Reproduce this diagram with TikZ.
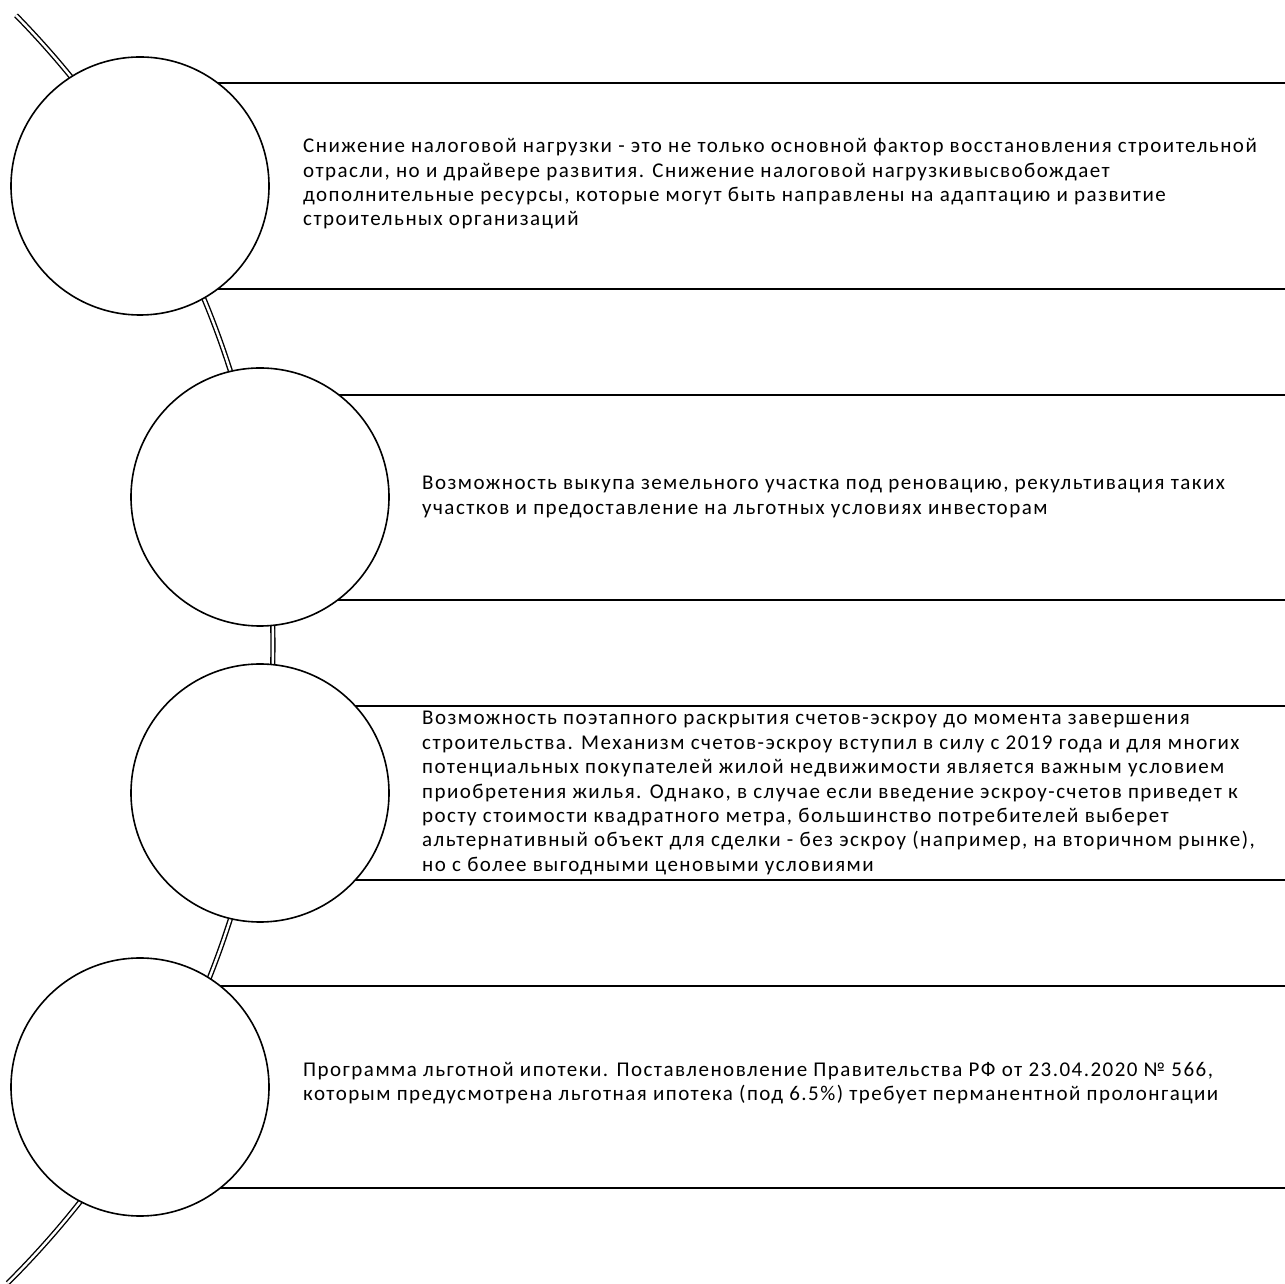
\documentclass[tikz,border=0pt]{standalone}
\usepackage{fontspec}
\setmainfont{Carlito}[LetterSpace=7]
\definecolor{ink}{RGB}{0,0,0}

\begin{document}
\begin{tikzpicture}[x=1pt,y=1pt,line cap=butt,line join=round,
  stage/.style={circle,draw=ink,fill=white,line width=1.6pt,inner sep=0pt,minimum size=258pt},
  note/.style={anchor=west,align=left,text=ink,inner sep=0pt,font=\fontsize{21}{24.4}\selectfont},
  rule/.style={draw=ink,line width=1.6pt},
  spine/.style={draw=ink,line width=1.4pt,double=white,double distance=2.4pt}]
\useasboundingbox (0,0) rectangle (1285,1283);
% spine behind the circles
\draw[spine] (-627,638) ++(44.4:900) arc[start angle=44.4,end angle=-45.15,radius=900];
% band edges
\foreach \y/\x in {1200/140,994/140,888/260,683/260,577/260,403/260,297/140,95/140}
  \draw[rule] (\x,\y) -- (1285,\y);
\node[stage] (c1) at (140,1097) {};
\node[stage] (c2) at (260,786) {};
\node[stage] (c3) at (260,490) {};
\node[stage] (c4) at (140,196) {};
\node[note] (t1) at (303,1099) {Снижение  налоговой нагрузки - это не только основной фактор восстановления строительной\\
отрасли, но и драйвере развития. Снижение налоговой нагрузкивысвобождает\\
дополнительные ресурсы, которые могут быть направлены на адаптацию и развитие\\
строительных организаций};
\node[note] (t2) at (422,786) {Возможность выкупа земельного участка под реновацию, рекультивация таких\\
участков и предоставление на льготных условиях инвесторам};
\node[note] (t3) at (422,490) {Возможность поэтапного раскрытия счетов-эскроу до момента завершения\\
строительства. Механизм счетов-эскроу вступил в силу с 2019 года и для многих\\
потенциальных покупателей жилой недвижимости является важным условием\\
приобретения жилья. Однако, в случае если введение эскроу-счетов приведет к\\
росту стоимости квадратного метра, большинство потребителей выберет\\
альтернативный объект для сделки - без эскроу (например, на вторичном рынке),\\
но с более выгодными ценовыми условиями};
\node[note] (t4) at (303,200) {Программа льготной ипотеки. Поставленовление Правительства РФ от 23.04.2020 № 566,\\
которым предусмотрена льготная ипотека (под 6.5\%) требует перманентной пролонгации};
\end{tikzpicture}
\end{document}
